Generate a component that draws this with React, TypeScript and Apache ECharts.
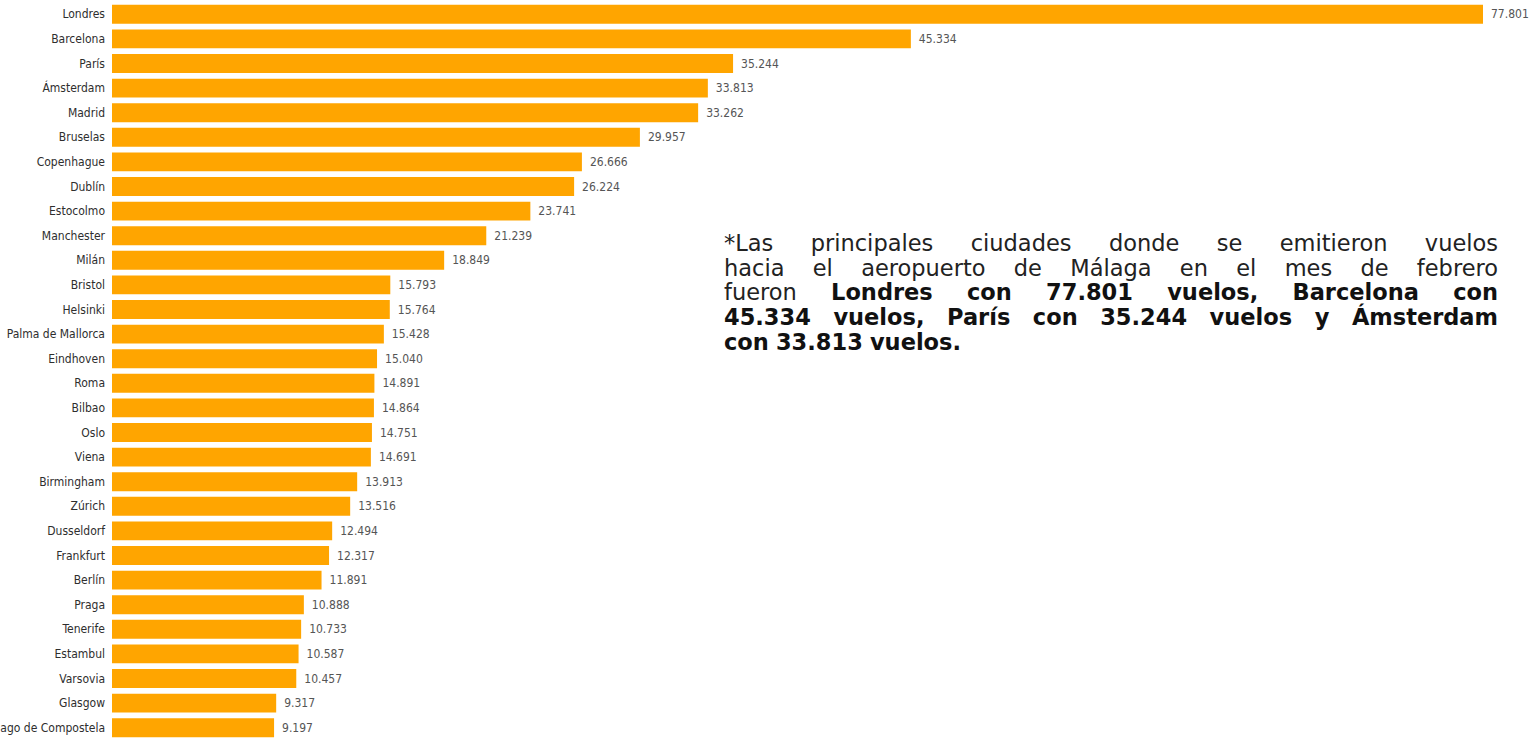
import React, { useEffect, useRef } from "react";
import * as echarts from "echarts";

const cities = [
  "Londres", "Barcelona", "París", "Ámsterdam", "Madrid", "Bruselas", "Copenhague", "Dublín",
  "Estocolmo", "Manchester", "Milán", "Bristol", "Helsinki", "Palma de Mallorca", "Eindhoven",
  "Roma", "Bilbao", "Oslo", "Viena", "Birmingham", "Zúrich", "Dusseldorf", "Frankfurt", "Berlín",
  "Praga", "Tenerife", "Estambul", "Varsovia", "Glasgow", "Santiago de Compostela",
];
const flights = [
  77801, 45334, 35244, 33813, 33262, 29957, 26666, 26224, 23741, 21239, 18849, 15793, 15764,
  15428, 15040, 14891, 14864, 14751, 14691, 13913, 13516, 12494, 12317, 11891, 10888, 10733,
  10587, 10457, 9317, 9197,
];

type Seg = { t: string; b: boolean };
const noteLines: Seg[][] = [
  [{ t: "*Las principales ciudades donde se emitieron vuelos", b: false }],
  [{ t: "hacia el aeropuerto de Málaga en el mes de febrero", b: false }],
  [{ t: "fueron", b: false }, { t: "Londres con 77.801 vuelos, Barcelona con", b: true }],
  [{ t: "45.334 vuelos, París con 35.244 vuelos y Ámsterdam", b: true }],
  [{ t: "con 33.813 vuelos.", b: true }],
];

const fmt = (v: number) => v.toLocaleString("de-DE");

const NOTE_FONT = '"DejaVu Sans", sans-serif';
const NOTE_SIZE = 22.5;

function buildNote(): any[] {
  const ctx = document.createElement("canvas").getContext("2d")!;
  const left = 724;
  const right = 1498;
  const top = 243;
  const lh = 24.7;
  const els: any[] = [];
  noteLines.forEach((line, li) => {
    const words: { w: string; b: boolean; width: number }[] = [];
    line.forEach((s) =>
      s.t.split(" ").forEach((w) => {
        ctx.font = `${s.b ? "bold " : ""}${NOTE_SIZE}px ${NOTE_FONT}`;
        words.push({ w, b: s.b, width: ctx.measureText(w).width });
      })
    );
    const total = words.reduce((a, x) => a + x.width, 0);
    ctx.font = `${NOTE_SIZE}px ${NOTE_FONT}`;
    const space = ctx.measureText(" ").width;
    const last = li === noteLines.length - 1;
    const gap = last || words.length < 2 ? space : (right - left - total) / (words.length - 1);
    let x = left;
    words.forEach((wd) => {
      els.push({
        type: "text",
        x,
        y: top + li * lh,
        style: {
          text: wd.w,
          font: `${wd.b ? "bold " : ""}${NOTE_SIZE}px ${NOTE_FONT}`,
          fill: wd.b ? "#111111" : "#222222",
          verticalAlign: "middle",
          align: "left",
        },
      });
      x += wd.width + gap;
    });
  });
  return els;
}

const LABEL_FONT = '"DejaVu Sans Condensed", "Liberation Sans Narrow", "Roboto", sans-serif';

export default function App() {
  const ref = useRef<HTMLDivElement>(null);
  useEffect(() => {
    const chart = echarts.init(ref.current!, null, { renderer: "svg" });
    chart.setOption({
      animation: false,
      backgroundColor: "#ffffff",
      grid: {
        left: 112,
        right: 51,
        top: 2,
        bottom: 0,
        containLabel: false,
        outerBoundsMode: "none",
      },
      xAxis: {
        type: "value",
        min: 0,
        max: 77801,
        show: false,
      },
      yAxis: {
        type: "category",
        data: cities,
        inverse: true,
        axisLine: { show: false },
        axisTick: { show: false },
        axisLabel: {
          margin: 7,
          color: "#2e2e2e",
          fontSize: 12,
          fontFamily: LABEL_FONT,
        },
      },
      series: [
        {
          type: "bar",
          data: flights,
          barCategoryGap: "23%",
          itemStyle: { color: "#FFA500" },
          label: {
            show: true,
            position: "right",
            distance: 8,
            color: "#555555",
            fontSize: 12,
            fontFamily: LABEL_FONT,
            formatter: (p: any) => fmt(p.value),
          },
        },
      ],
      graphic: buildNote(),
    });
    return () => chart.dispose();
  }, []);
  return (
    <div
      ref={ref}
      style={{ position: "fixed", left: 0, top: 0, width: 1534, height: 740, background: "#fff" }}
    />
  );
}
